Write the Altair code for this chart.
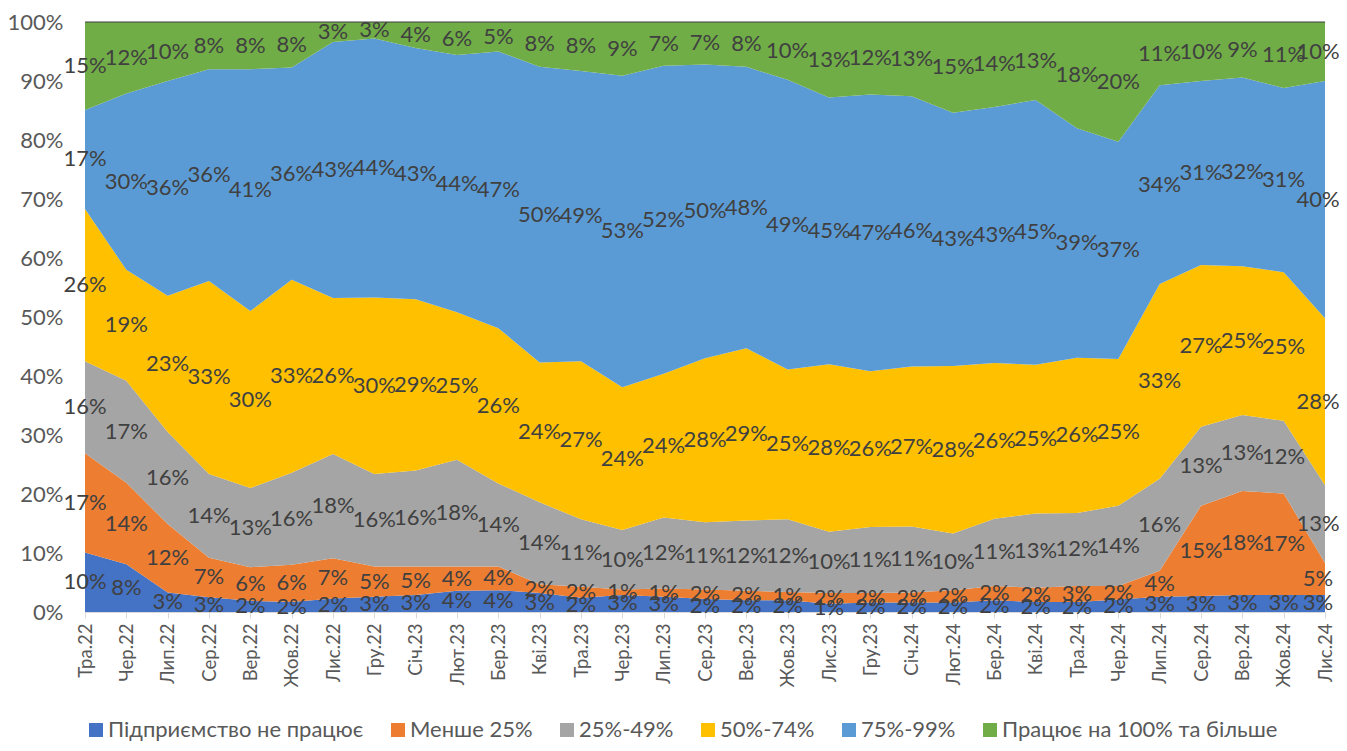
import altair as alt
import pandas as pd

months = ["Тра.22","Чер.22","Лип.22","Сер.22","Вер.22","Жов.22","Лис.22","Гру.22",
          "Січ.23","Лют.23","Бер.23","Кві.23","Тра.23","Чер.23","Лип.23","Сер.23",
          "Вер.23","Жов.23","Лис.23","Гру.23","Січ.24","Лют.24","Бер.24","Кві.24",
          "Тра.24","Чер.24","Лип.24","Сер.24","Вер.24","Жов.24","Лис.24"]

series_names = ["Підприємство не працює", "Менше 25%", "25%-49%", "50%-74%", "75%-99%",
                "Працює на 100% та більше"]
colors = ["#4472C4", "#ED7D31", "#A5A5A5", "#FFC000", "#5B9BD5", "#70AD47"]

not_working = [10.1,8.1,3.3,2.5,1.9,1.7,2.3,2.6,2.9,3.6,3.7,3.2,2.4,2.9,2.6,2.2,2.0,2.0,1.4,1.6,
               1.6,1.6,2.0,1.7,1.7,2.1,2.6,2.7,2.9,2.9,2.9]
less25 = [16.8,13.8,11.6,6.7,5.7,6.3,6.8,5.1,4.8,4.1,4.0,1.5,1.9,0.9,1.4,1.6,1.6,1.4,1.8,1.6,
          1.7,2.1,2.4,2.4,2.7,2.3,4.4,15.3,17.6,17.2,5.4]
p25_49 = [15.6,17.3,15.6,14.2,13.4,15.6,17.7,15.7,16.3,18.1,14.1,13.9,11.4,10.1,12.0,11.4,11.9,
          12.3,10.4,11.2,11.2,9.6,11.4,12.6,12.4,13.6,15.6,13.4,12.9,12.3,13.2]
p50_74 = [25.8,18.8,23.1,32.7,30.0,32.7,26.4,29.9,29.0,25.0,26.3,23.7,26.8,24.2,24.4,27.8,29.2,
          25.4,28.4,26.4,27.1,28.4,26.4,25.2,26.3,24.9,33.0,27.4,25.2,25.2,28.3]
p75_99 = [16.8,29.9,36.4,35.9,41.0,36.0,43.4,43.9,42.6,43.6,46.9,50.1,49.2,52.8,52.2,49.8,47.7,
          49.1,45.2,46.9,45.8,42.9,43.4,44.9,38.9,36.8,33.7,31.2,32.0,31.2,40.2]
full100 = [14.9,12.1,10.0,8.0,8.0,7.7,3.4,2.8,4.4,5.6,5.0,7.6,8.3,9.1,7.4,7.2,7.6,9.8,12.8,12.3,
           12.6,15.4,14.4,13.2,18.0,20.3,10.7,10.0,9.4,11.2,10.0]

all_series = [not_working, less25, p25_49, p50_74, p75_99, full100]

rows = []
for si, (name, vals) in enumerate(zip(series_names, all_series)):
    for m, v in zip(months, vals):
        rows.append({"month": m, "series": name, "value": v, "ord": si})
df = pd.DataFrame(rows)

FONT = "Lato"
last_month = months[-1]

x_enc = alt.X("month:N", sort=months, scale=alt.Scale(type="point", padding=0),
              axis=alt.Axis(title=None, labelAngle=-90, labelFontSize=18.5, labelColor="#595959",
                            labelFont=FONT, domainColor="#D9D9D9", tickColor="#D9D9D9",
                            tickSize=6, grid=False, labelPadding=5))

base = alt.Chart(df)

area = base.mark_area(opacity=1).encode(
    x=x_enc,
    y=alt.Y("value:Q", stack="normalize", scale=alt.Scale(domain=[0, 1]),
            axis=alt.Axis(title=None, values=[i / 10 for i in range(11)], format=".0%",
                          labelFontSize=22, labelColor="#595959", labelFont=FONT,
                          domain=False, ticks=False, grid=False, labelPadding=22)),
    color=alt.Color("series:N", scale=alt.Scale(domain=series_names, range=colors),
                    legend=alt.Legend(title=None)),
    order=alt.Order("ord:Q", sort="ascending"),
)

stacked = base.transform_stack(
    stack="value", as_=["y0", "y1"], groupby=["month"],
    sort=[alt.SortField("ord", order="ascending")], offset="normalize"
).transform_calculate(
    mid="(datum.y0 + datum.y1) / 2", label="round(datum.value) + '%'"
)

label_enc = dict(x=alt.X("month:N", sort=months), y=alt.Y("mid:Q"), text="label:N")

labels = stacked.transform_filter(alt.datum.month != last_month).mark_text(
    font=FONT, fontSize=22, color="#404040").encode(**label_enc)

labels_last = stacked.transform_filter(alt.datum.month == last_month).mark_text(
    font=FONT, fontSize=22, color="#404040", dx=-7).encode(**label_enc)

rule = alt.Chart(pd.DataFrame({"t": [1.0]})).mark_rule(color="#404040", strokeWidth=1).encode(
    y="t:Q"
)

chart = alt.layer(area, labels, labels_last, rule).properties(
    width=1240, height=590,
    autosize=alt.AutoSizeParams(type="none"),
    padding={"left": 77, "top": 14, "right": 14, "bottom": 131},
).configure_view(stroke=None).configure_legend(
    orient="none", legendX=0, legendY=697, direction="horizontal",
    labelFontSize=22, labelColor="#595959", labelFont=FONT, symbolType="square",
    symbolSize=196, symbolStrokeWidth=0, columnPadding=23, labelOffset=1, labelLimit=400,
)

chart.save("out.html", embed_options={"renderer": "svg", "actions": False})
